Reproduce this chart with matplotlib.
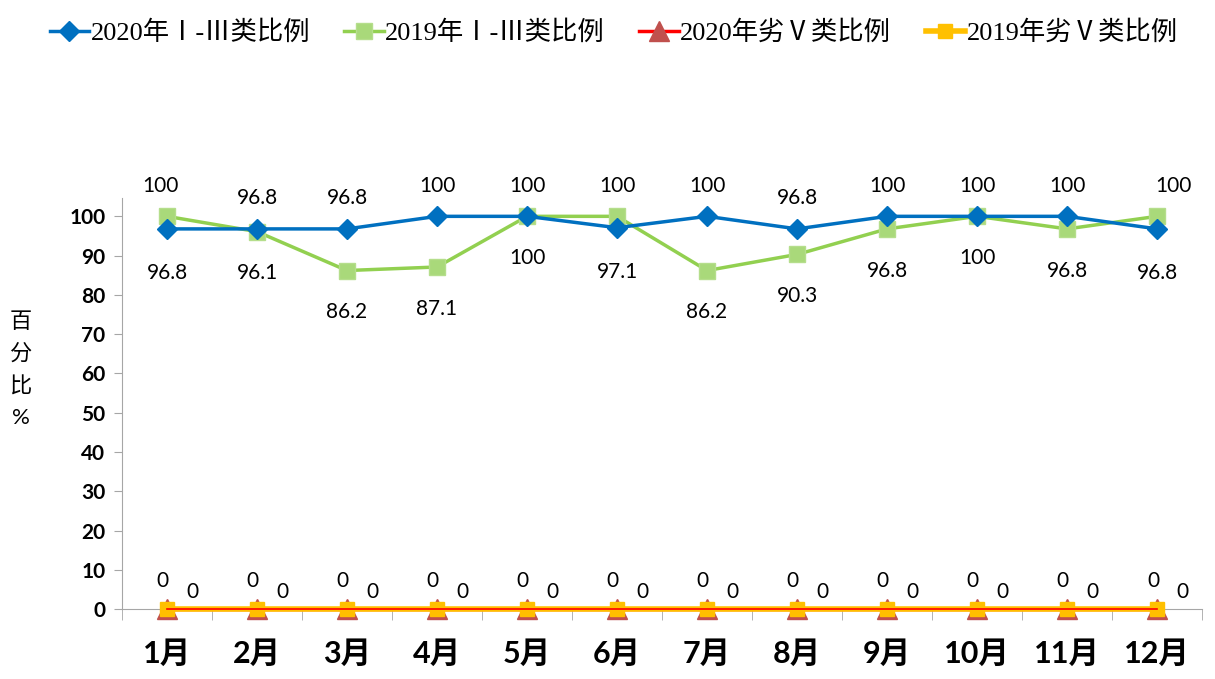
import numpy as np
import matplotlib.pyplot as plt

plt.rcParams['font.family'] = ['Lato', 'Noto Sans CJK SC', 'DejaVu Sans']

months = ["1月", "2月", "3月", "4月", "5月", "6月", "7月", "8月", "9月", "10月", "11月", "12月"]
good_2020 = [96.8, 96.8, 96.8, 100, 100, 97.1, 100, 96.8, 100, 100, 100, 96.8]
good_2019 = [100, 96.1, 86.2, 87.1, 100, 100, 86.2, 90.3, 96.8, 100, 96.8, 100]
bad_2020 = [0] * 12
bad_2019 = [0] * 12
# where each data label sits: +1 above the point, -1 below
pos_2020 = [-1, 1, 1, 1, 1, -1, 1, 1, 1, 1, 1, -1]
pos_2019 = [1, -1, -1, -1, -1, 1, -1, -1, -1, -1, -1, 1]

x = np.arange(len(months))

fig = plt.figure(figsize=(12.15, 6.79), dpi=100)
ax = fig.add_axes([0.1004, 0.103, 0.889, 0.605])

l1, = ax.plot(x, good_2020, color="#0070C0", lw=2.5, marker="D", ms=10,
              mec="#0070C0", mfc="#0070C0", zorder=4)
l2, = ax.plot(x, good_2019, color="#92D050", lw=2.5, marker="s", ms=11,
              mec="#B5DE8C", mfc="#A9D97A", zorder=3)
l3, = ax.plot(x, bad_2020, color="#FF0000", lw=2.5, marker="^", ms=14,
              mec="#C0504D", mfc="#C0504D", zorder=5, clip_on=False)
l4, = ax.plot(x, bad_2019, color="#FFC000", lw=4, marker="s", ms=10,
              mec="#FFC000", mfc="#FFC000", zorder=6, clip_on=False)
ax.plot(x, bad_2020, color="#FF0000", lw=1.2, zorder=6.5, clip_on=False)

lab_kw = dict(ha="center", va="center", fontsize=15, textcoords="offset points")
for i in range(len(months)):
    ax.annotate(f"{good_2020[i]:g}", (x[i], good_2020[i]),
                xytext=(0, 22 if pos_2020[i] > 0 else -32), **lab_kw)
    ax.annotate(f"{good_2019[i]:g}", (x[i], good_2019[i]),
                xytext=(-5 if i == 0 else (12 if i == 11 else 0),
                        22 if pos_2019[i] > 0 else -30), **lab_kw)
    ax.annotate(f"{bad_2020[i]:g}", (x[i], bad_2020[i]), xytext=(-3, 20), **lab_kw)
    ax.annotate(f"{bad_2019[i]:g}", (x[i], bad_2019[i]), xytext=(18, 12), **lab_kw)

ax.set_xlim(-0.5, len(months) - 0.5)
ax.set_ylim(0, 104.6)
ax.set_yticks(np.arange(0, 101, 10))
ax.set_yticklabels([str(v) for v in range(0, 101, 10)], fontsize=15, fontweight="bold")
ax.set_xticks(x)
ax.set_xticklabels(months, fontsize=22, fontweight="bold")
ax.set_xticks(np.arange(-0.5, len(months)), minor=True)
ax.tick_params(axis="x", which="major", length=0, pad=22)
ax.tick_params(axis="x", which="minor", length=8, color="#A6A6A6", direction="out")
ax.tick_params(axis="y", length=6, color="#A6A6A6", direction="out", pad=6)

for s in ["top", "right"]:
    ax.spines[s].set_visible(False)
for s in ["left", "bottom"]:
    ax.spines[s].set_color("#A6A6A6")

fig.text(0.017, 0.455, "百\n分\n比\n%", fontsize=16, ha="center", va="center",
         linespacing=1.75)

fig.legend([l1, l2, l3, l4],
           ["2020年Ⅰ-Ⅲ类比例", "2019年Ⅰ-Ⅲ类比例", "2020年劣Ⅴ类比例", "2019年劣Ⅴ类比例"],
           loc="upper center", bbox_to_anchor=(0.505, 1.005), ncol=4, frameon=False,
           prop={"family": ["Liberation Serif", "Noto Sans CJK SC"], "size": 19},
           handlelength=1.5, handletextpad=0.05, columnspacing=1.3)

fig.savefig("out.png", dpi=100)
